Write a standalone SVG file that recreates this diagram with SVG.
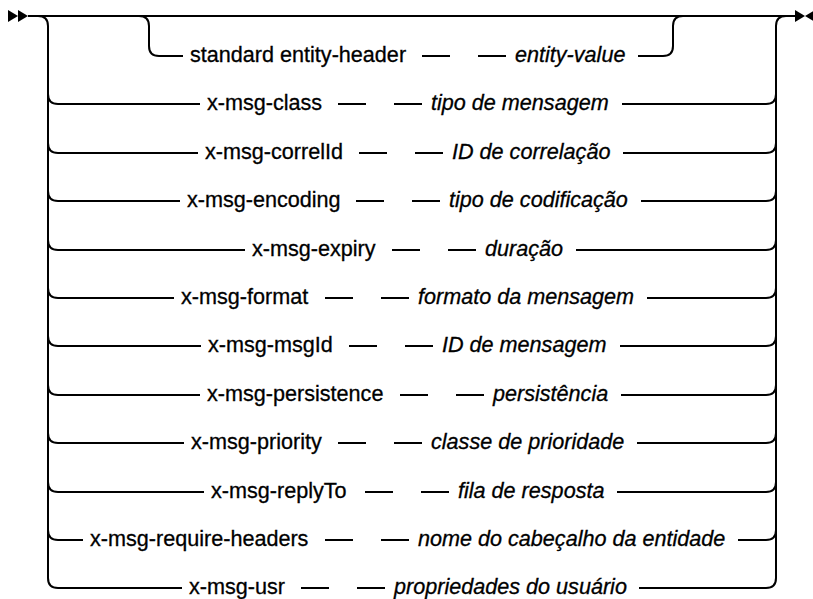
<svg xmlns="http://www.w3.org/2000/svg" width="813" height="599" viewBox="0 0 813 599">
<style>
.ln{fill:none;stroke:#000;stroke-width:2}
.ar{fill:#000;stroke:none}
text{font-family:"Liberation Sans",Arial,sans-serif;font-size:21.6px;fill:#000;stroke:#000;stroke-width:0.3px}
.var{font-style:italic}
</style>
<rect width="813" height="599" fill="#fff"/>
<g id="connectors">
<polygon class="ar" points="8,10 8,22 18,16"/>
<polygon class="ar" points="18,10 18,22 28,16"/>
<polygon class="ar" points="795,10 795,22 805,16"/>
<polygon class="ar" points="815,10 815,22 805,16"/>
<path class="ln" d="M28,16 H795"/>
<path class="ln" d="M38,16 Q48,16 48,26 V578"/>
<path class="ln" d="M786,16 Q776,16 776,26 V578"/>
<path class="ln" d="M139,16 Q149,16 149,26 V46 Q149,56 159,56 H183 M422,56 H450 M478,56 H506 M638,56 H663 Q673,56 673,46 V26 Q673,16 683,16"/>
<path class="ln" d="M48,94 Q48,104 58,104 H200 M338,104 H366 M394,104 H422 M622,104 H766 Q776,104 776,94"/>
<path class="ln" d="M48,143 Q48,153 58,153 H198 M359,153 H387 M415,153 H443 M623,153 H766 Q776,153 776,143"/>
<path class="ln" d="M48,191 Q48,201 58,201 H180 M356,201 H384 M412,201 H440 M641,201 H766 Q776,201 776,191"/>
<path class="ln" d="M48,240 Q48,250 58,250 H245 M392,250 H420 M448,250 H476 M576,250 H766 Q776,250 776,240"/>
<path class="ln" d="M48,288 Q48,298 58,298 H174 M325,298 H353 M381,298 H409 M647,298 H766 Q776,298 776,288"/>
<path class="ln" d="M48,336 Q48,346 58,346 H201 M349,346 H377 M405,346 H433 M620,346 H766 Q776,346 776,336"/>
<path class="ln" d="M48,385 Q48,395 58,395 H200 M400,395 H428 M456,395 H484 M621,395 H766 Q776,395 776,385"/>
<path class="ln" d="M48,433 Q48,443 58,443 H184 M338,443 H366 M394,443 H422 M637,443 H766 Q776,443 776,433"/>
<path class="ln" d="M48,482 Q48,492 58,492 H204 M365,492 H393 M421,492 H449 M617,492 H766 Q776,492 776,482"/>
<path class="ln" d="M48,530 Q48,540 58,540 H83 M325,540 H353 M381,540 H409 M738,540 H766 Q776,540 776,530"/>
<path class="ln" d="M48,578 Q48,588 58,588 H182 M301,588 H329 M357,588 H385 M639,588 H766 Q776,588 776,578"/>
</g>
<g id="row-standard"><text x="190" y="62">standard entity-header</text><text class="var" x="515" y="62">entity-value</text></g>
<g id="row-class"><text x="207" y="110">x-msg-class</text><text class="var" x="431" y="110">tipo de mensagem</text></g>
<g id="row-correlId"><text x="205" y="159">x-msg-correlId</text><text class="var" x="452" y="159">ID de correlação</text></g>
<g id="row-encoding"><text x="187" y="207">x-msg-encoding</text><text class="var" x="449" y="207">tipo de codificação</text></g>
<g id="row-expiry"><text x="252" y="256">x-msg-expiry</text><text class="var" x="485" y="256">duração</text></g>
<g id="row-format"><text x="181" y="304">x-msg-format</text><text class="var" x="418" y="304">formato da mensagem</text></g>
<g id="row-msgId"><text x="208" y="352">x-msg-msgId</text><text class="var" x="442" y="352">ID de mensagem</text></g>
<g id="row-persistence"><text x="207" y="401">x-msg-persistence</text><text class="var" x="493" y="401">persistência</text></g>
<g id="row-priority"><text x="191" y="449">x-msg-priority</text><text class="var" x="431" y="449">classe de prioridade</text></g>
<g id="row-replyTo"><text x="211" y="498">x-msg-replyTo</text><text class="var" x="458" y="498">fila de resposta</text></g>
<g id="row-require"><text x="90" y="546">x-msg-require-headers</text><text class="var" x="418" y="546">nome do cabeçalho da entidade</text></g>
<g id="row-usr"><text x="189" y="594">x-msg-usr</text><text class="var" x="394" y="594">propriedades do usuário</text></g>
</svg>
